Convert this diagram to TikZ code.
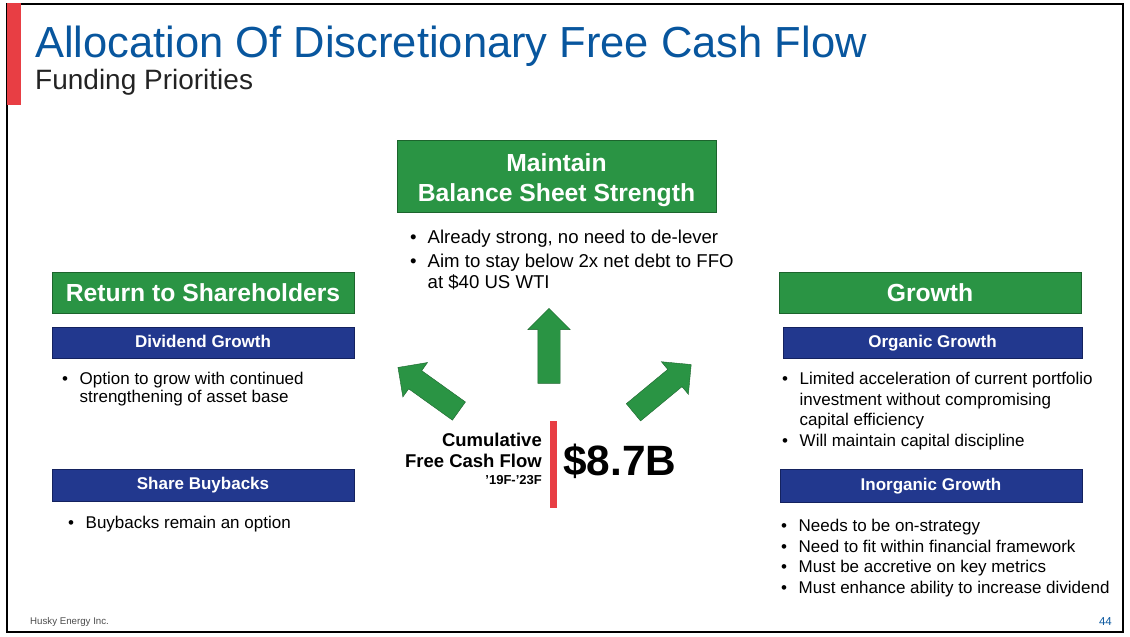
\documentclass[tikz,border=0pt]{standalone}
\usepackage{fontspec}
\setmainfont{Liberation Sans}
\usetikzlibrary{shapes.arrows, positioning}
\definecolor{titleblue}{RGB}{8,86,158}
\definecolor{boxgreen}{RGB}{42,148,68}
\definecolor{greenline}{RGB}{28,100,45}
\definecolor{boxnavy}{RGB}{34,56,142}
\definecolor{navyline}{RGB}{20,34,95}
\definecolor{barred}{RGB}{232,62,68}
\definecolor{darktext}{RGB}{35,35,35}
\tikzstyle{headbox} = [rectangle, draw=greenline, fill=boxgreen, text=white, font=\bfseries\fontsize{24.7}{30}\selectfont, align=center, inner sep=0]
\tikzstyle{subbox} = [rectangle, draw=navyline, fill=boxnavy, text=white, font=\bfseries\fontsize{17}{20}\selectfont, inner sep=0, text height=12.5pt, text depth=3.5pt]
\tikzstyle{bullets} = [align=left, anchor=base west, inner sep=0, text=black, font=\fontsize{17}{20.5}\selectfont]
\tikzstyle{blockarrow} = [single arrow, draw=greenline, fill=boxgreen, minimum height=75pt, inner xsep=0, inner ysep=11pt, single arrow head extend=10pt]
\newcommand{\bul}{\makebox[17.5pt][l]{•}}
\newcommand{\ind}{\hspace*{17.5pt}}

\begin{document}
\begin{tikzpicture}[x=1pt, y=-1pt]
\useasboundingbox (0,0) rectangle (1130,637);
\draw[line width=1.2pt] (7,4) rectangle (1123,632);
\fill[barred] (7,3) rectangle (21,105);

\node (title) [anchor=base west, inner sep=0, text=titleblue, font=\fontsize{43.5}{50}\selectfont] at (35,57) {Allocation Of Discretionary Free Cash Flow};
\node (subtitle) [anchor=base west, inner sep=0, text=darktext, font=\fontsize{28}{32}\selectfont] at (35,89) {Funding Priorities};

% priority boxes
\node (balance) [headbox, minimum width=319, minimum height=72] at (556.5,176) {\rule{0pt}{26pt}Maintain\\Balance Sheet Strength};
\node (return) [headbox, minimum width=302, minimum height=41] at (203,292.5) {Return to Shareholders};
\node (growth) [headbox, minimum width=302, minimum height=41] at (930,292.5) {Growth};
\node (dividend) [subbox, minimum width=302, minimum height=31] at (203,342.5) {Dividend Growth};
\node (buyback) [subbox, minimum width=302, minimum height=32] at (203,485) {Share Buybacks};
\node (organic) [subbox, minimum width=299, minimum height=31] at (932.5,342.5) {Organic Growth};
\node (inorganic) [subbox, minimum width=302, minimum height=33] at (931,485.5) {Inorganic Growth};

% bullet points (base = last line)
\node (balancepts) [bullets, font=\fontsize{18.6}{21}\selectfont] at (410,288) {\bul Already strong, no need to de-lever\\[3pt]\bul Aim to stay below 2x net debt to FFO\\\ind at \$40 US WTI};
\node (dividendpts) [bullets, font=\fontsize{17}{17.5}\selectfont] at (62,402) {\bul Option to grow with continued\\\ind strengthening of asset base};
\node (buybackpts) [bullets] at (68,528) {\bul Buybacks remain an option};
\node (organicpts) [bullets] at (782,446) {\bul Limited acceleration of current portfolio\\\ind investment without compromising\\\ind capital efficiency\\\bul Will maintain capital discipline};
\node (inorganicpts) [bullets] at (781,593) {\bul Needs to be on-strategy\\\bul Need to fit within financial framework\\\bul Must be accretive on key metrics\\\bul Must enhance ability to increase dividend};

% arrows
\node (arrleft) [blockarrow, rotate=144.4] at (433,392.5) {};
\node (arrup) [blockarrow, rotate=90] at (549,351.5) {};
\node (arrright) [blockarrow, rotate=39.6] at (658,392) {};

% cash flow
\fill[barred] (550,421) rectangle (557,508);
\node (cumul) [anchor=base east, inner sep=0, align=right, font=\bfseries\fontsize{18.5}{21}\selectfont] at (542,484) {Cumulative\\Free Cash Flow\\[-4pt]{\fontsize{13}{15}\selectfont ’19F-’23F}};
\node (total) [anchor=base west, inner sep=0, font=\bfseries\fontsize{42.4}{48}\selectfont] at (563,475) {\$8.7B};

% footer
\node (company) [anchor=base west, inner sep=0, text=black!70, font=\fontsize{9.7}{11}\selectfont] at (30,624.5) {Husky Energy Inc.};
\node (page) [anchor=base east, inner sep=0, text=titleblue, font=\fontsize{11.5}{13}\selectfont] at (1112,625) {44};
\end{tikzpicture}
\end{document}
